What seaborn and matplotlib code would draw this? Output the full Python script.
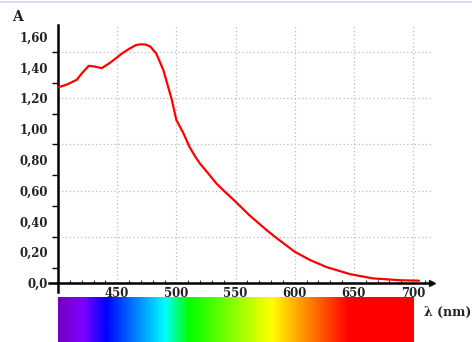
import numpy as np
import pandas as pd
import matplotlib
matplotlib.use("Agg")
import matplotlib.pyplot as plt
from matplotlib.colors import LinearSegmentedColormap
from matplotlib.ticker import MultipleLocator
import seaborn as sns

# absorbance spectrum
wavelength = [400, 408, 416, 420, 426, 431, 437, 444, 450, 454, 460, 466, 470, 474,
              478, 483, 489, 493, 496, 500, 506, 511, 516, 520, 526, 534, 540, 550,
              562, 576, 585, 600, 613, 627, 637, 647, 666, 689, 705]
absorbance = [1.27, 1.29, 1.32, 1.36, 1.41, 1.405, 1.395, 1.43, 1.465, 1.49, 1.52, 1.545,
              1.55, 1.548, 1.535, 1.49, 1.383, 1.275, 1.195, 1.058, 0.972, 0.885, 0.82,
              0.775, 0.72, 0.645, 0.60, 0.528, 0.438, 0.345, 0.29, 0.203, 0.149, 0.103,
              0.080, 0.057, 0.03, 0.018, 0.015]
x_ticks = [450, 500, 550, 600, 650, 700]
y_ticks = [0.0, 0.2, 0.4, 0.6, 0.8, 1.0, 1.2, 1.4, 1.6]
y_tick_labels = ["0,0", "0,20", "0,40", "0,60", "0,80", "1,00", "1,20", "1,40", "1,60"]

# visible spectrum colour stops
spectrum_nm = [400, 420, 440, 490, 510, 580, 645, 700]
spectrum_colors = ["#7400c4", "#7f00ff", "#0000ff", "#00ffff", "#00ff00",
                   "#ffff00", "#ff0000", "#ff0000"]

sns.set_theme(style="white")
plt.rcParams['font.family'] = ['DejaVu Serif', 'DejaVu Sans']

W, H = 472, 342
fig = plt.figure(figsize=(W / 100, H / 100), dpi=100)
ax = fig.add_axes([58 / W, 59 / H, 374 / W, 258 / H])

df = pd.DataFrame({"nm": wavelength, "A": absorbance})
sns.lineplot(data=df, x="nm", y="A", color="#ff0000", lw=1.6, ax=ax, zorder=5)

ax.set_xlim(400, 716)
ax.set_ylim(0, 1.675)
ax.set_xlabel("")
ax.set_ylabel("")

ax.set_xticks(x_ticks)
ax.xaxis.set_minor_locator(MultipleLocator(10))
ax.set_yticks(y_ticks)
ax.set_yticklabels(y_tick_labels)
ax.yaxis.set_minor_locator(MultipleLocator(0.1))

ax.tick_params(axis="x", which="major", direction="inout", length=6, width=1.2,
               color="black", pad=0, labelsize=8.5)
ax.tick_params(axis="x", which="minor", direction="in", length=2, width=0.8,
               color="#333333", bottom=True)
ax.tick_params(axis="y", which="major", direction="out", length=5, width=1.2,
               color="black", pad=2, labelsize=8.5)
ax.tick_params(axis="y", which="minor", direction="out", length=4, width=1.0,
               color="black", left=True)
for lab in ax.get_xticklabels() + ax.get_yticklabels():
    lab.set_fontweight("bold")
    lab.set_color("#222222")

# dotted grid: vertical at the x ticks, horizontal every 0.3
ax.grid(axis="x", which="major", linestyle=(0, (1, 2)), color="#bbbbbb", lw=0.9)
ax.grid(axis="y", visible=False)
for yg in np.arange(0.3, 1.6, 0.3):
    ax.axhline(yg, linestyle=(0, (1, 2)), color="#bbbbbb", lw=0.9, zorder=0)

for side in ["top", "right"]:
    ax.spines[side].set_visible(False)
for side in ["left", "bottom"]:
    ax.spines[side].set_color("black")
    ax.spines[side].set_linewidth(1.8)
ax.spines["left"].set_bounds(-0.06, 1.675)
ax.spines["bottom"].set_bounds(392, 716)

# arrow heads
ax.plot(1, 0, ">k", ms=5, transform=ax.get_yaxis_transform(), clip_on=False)
ax.plot(0, 1, "^k", ms=5, transform=ax.get_xaxis_transform(), clip_on=False)

fig.text(12 / W, 1 - 17 / H, "A", fontsize=10, fontweight="bold", va="center",
         color="#222222")
fig.text(424 / W, 1 - 312 / H, "λ (nm)", fontsize=9, fontweight="bold", va="center",
         color="#222222")

# spectrum strip under the axis
sax = fig.add_axes([58 / W, 0, 356 / W, 45 / H])
pos = [(v - spectrum_nm[0]) / (spectrum_nm[-1] - spectrum_nm[0]) for v in spectrum_nm]
cmap = LinearSegmentedColormap.from_list("spectrum", list(zip(pos, spectrum_colors)))
grad = np.linspace(spectrum_nm[0], spectrum_nm[-1], 600)[None, :]
sax.imshow(grad, aspect="auto", cmap=cmap, extent=[400, 700, 0, 1])
sax.set_axis_off()

# thin page border at the top
fig.add_artist(plt.Line2D([0, 1], [1 - 1.5 / H] * 2, color="#d6e0f3", lw=1.5))

fig.savefig("out.png", dpi=100)
